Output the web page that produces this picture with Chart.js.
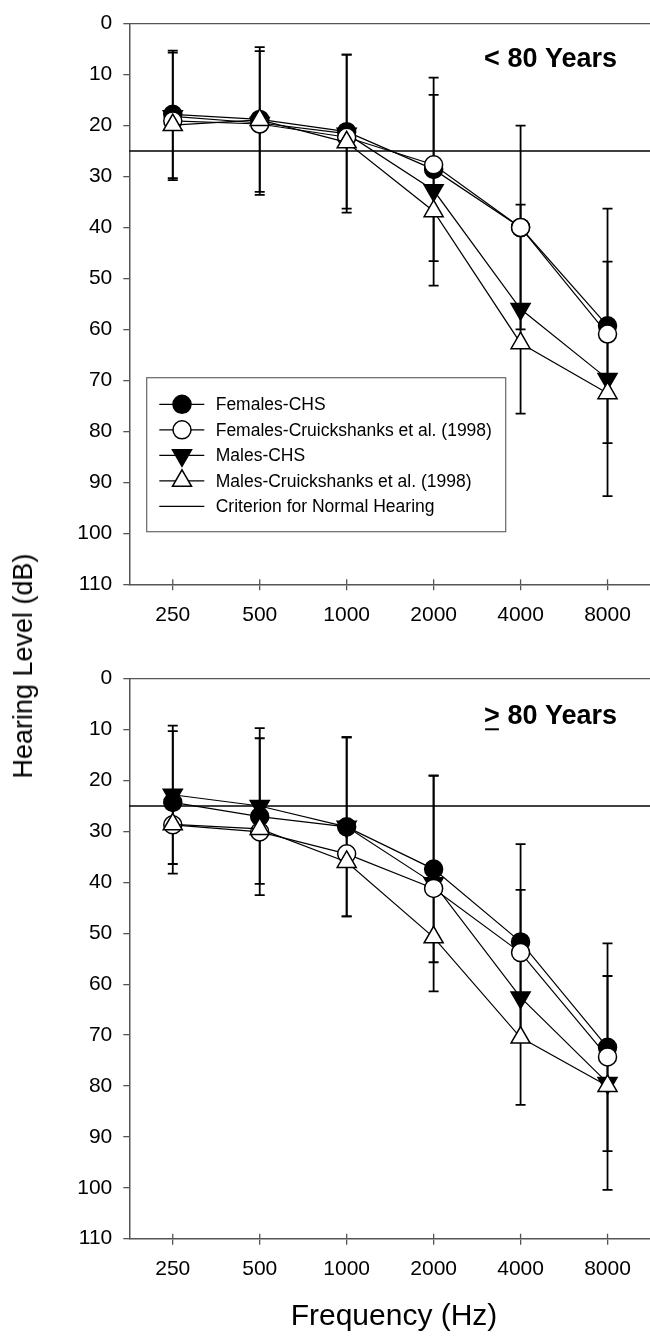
<!DOCTYPE html>
<html>
<head>
<meta charset="utf-8">
<script src="https://cdn.jsdelivr.net/npm/chart.js@4.4.1/dist/chart.umd.min.js"></script>
<style>
  html, body { margin: 0; padding: 0; background: #fff; overflow: hidden; }
  body { width: 650px; height: 1336px; position: relative; }
  #topWrap { position: absolute; left: 0; top: 0; }
  #botWrap { position: absolute; left: 0; top: 650px; }
  #ylab {
    position: absolute; left: 23px; top: 666px;
    transform: translate(-50%, -50%) rotate(-90deg);
    font: 27px "Liberation Sans", Arial, sans-serif; line-height: 30px;
    white-space: nowrap; color: #000;
  }
</style>
</head>
<body>
<div id="topWrap"><canvas id="chartTop" width="651" height="650"></canvas></div>
<div id="botWrap"><canvas id="chartBot" width="651" height="686"></canvas></div>
<div id="ylab">Hearing Level (dB)</div>
<script>
// --- DATA ---
const frequencies = ['250', '500', '1000', '2000', '4000', '8000'];
const criterion = 25;
const yMin = 0, yMax = 110, yStep = 10;

// < 80 years
const under80_femCHS   = [17.8, 18.8, 21.2, 28.6, 40.0, 59.3];
const under80_femCHSsd = [12.5, 14.2, 15.1, 18.0, 20.0, 23.0];
const under80_femCr    = [19.1, 19.7, 22.3, 27.7, 40.0, 60.9];
const under80_maleCHS   = [18.2, 19.5, 21.6, 32.7, 56.0, 69.7];
const under80_maleCHSsd = [12.5, 14.1, 15.5, 18.7, 20.5, 23.0];
const under80_maleCr    = [19.9, 18.9, 23.3, 36.8, 62.7, 72.5];

// >= 80 years
const over80_femCHS   = [24.3, 27.1, 29.1, 37.4, 51.7, 72.4];
const over80_femCHSsd = [14.0, 15.4, 17.6, 18.3, 19.2, 20.4];
const over80_femCr    = [28.7, 30.1, 34.4, 41.2, 53.8, 74.3];
const over80_maleCHS   = [22.8, 25.0, 29.1, 40.2, 62.6, 79.4];
const over80_maleCHSsd = [13.6, 15.3, 17.6, 21.2, 21.1, 21.0];
const over80_maleCr    = [28.6, 29.5, 36.0, 50.8, 70.5, 80.0];

const legendLabels = [
  'Females-CHS',
  'Females-Cruickshanks et al. (1998)',
  'Males-CHS',
  'Males-Cruickshanks et al. (1998)',
  'Criterion for Normal Hearing'
];

const FONT = '"Liberation Sans", Arial, sans-serif';

// --- STYLES ---
function makeDatasets(femCHS, femSd, femCr, maleCHS, maleSd, maleCr) {
  const base = { borderColor: '#000', borderWidth: 1.2, pointBorderColor: '#000', pointBorderWidth: 1.5, tension: 0 };
  return [
    { ...base, label: legendLabels[0], data: femCHS, sd: femSd, pointStyle: 'circle', pointRadius: 9, pointBackgroundColor: '#000', order: 2 },
    { ...base, label: legendLabels[1], data: femCr, pointStyle: 'circle', pointRadius: 9, pointBackgroundColor: '#fff', order: 1 },
    { ...base, label: legendLabels[2], data: maleCHS, sd: maleSd, pointStyle: 'triangle', pointRotation: 180, pointRadius: 11, pointBackgroundColor: '#000', order: 3 },
    { ...base, label: legendLabels[3], data: maleCr, pointStyle: 'triangle', pointRadius: 11, pointBackgroundColor: '#fff', order: 0 }
  ];
}

// --- PLUGINS ---
const frameAndErrors = {
  id: 'frameAndErrors',
  beforeDatasetsDraw(chart) {
    const { ctx, chartArea: a, scales: { x, y } } = chart;
    ctx.save();
    // criterion line
    const cy = y.getPixelForValue(criterion);
    ctx.strokeStyle = '#000'; ctx.lineWidth = 1.5;
    ctx.beginPath(); ctx.moveTo(a.left, cy); ctx.lineTo(a.right, cy); ctx.stroke();
    // top frame
    ctx.strokeStyle = '#555'; ctx.lineWidth = 1.3;
    ctx.beginPath(); ctx.moveTo(a.left, a.top); ctx.lineTo(a.right, a.top); ctx.stroke();
    // inner part of x ticks
    frequencies.forEach((f, j) => {
      const px = x.getPixelForValue(j);
      ctx.beginPath(); ctx.moveTo(px, a.bottom); ctx.lineTo(px, a.bottom - 5); ctx.stroke();
    });
    // error bars
    ctx.strokeStyle = '#000'; ctx.lineWidth = 1.8;
    chart.data.datasets.forEach(ds => {
      if (!ds.sd) return;
      ds.data.forEach((v, j) => {
        const px = x.getPixelForValue(j);
        const hi = y.getPixelForValue(v - ds.sd[j]);
        const lo = y.getPixelForValue(v + ds.sd[j]);
        ctx.beginPath();
        ctx.moveTo(px, hi); ctx.lineTo(px, lo);
        ctx.moveTo(px - 5, hi); ctx.lineTo(px + 5, hi);
        ctx.moveTo(px - 5, lo); ctx.lineTo(px + 5, lo);
        ctx.stroke();
      });
    });
    ctx.restore();
  }
};

const panelText = {
  id: 'panelText',
  afterDraw(chart, args, opts) {
    const { ctx } = chart;
    ctx.save();
    ctx.fillStyle = '#000';
    ctx.font = 'bold 27px ' + FONT;
    ctx.textAlign = 'right';
    ctx.textBaseline = 'alphabetic';
    ctx.fillText(opts.title, opts.x, opts.y);
    if (opts.underlineFirst) {
      const full = ctx.measureText(opts.title).width;
      const first = ctx.measureText(opts.title[0]).width;
      const left = opts.x - full;
      ctx.strokeStyle = '#000'; ctx.lineWidth = 2;
      ctx.beginPath(); ctx.moveTo(left + 1, opts.y + 5); ctx.lineTo(left + first - 1, opts.y + 5); ctx.stroke();
    }
    if (opts.xTitle) {
      ctx.font = '30px ' + FONT;
      ctx.textAlign = 'center';
      ctx.fillText(opts.xTitle, 394, opts.xTitleY);
    }
    ctx.restore();
  }
};

const boxLegend = {
  id: 'boxLegend',
  afterDraw(chart, args, opts) {
    if (!opts.show) return;
    const { ctx } = chart;
    const ds = chart.data.datasets;
    const bx = 146.7, by = 377.7, bw = 359, bh = 154;
    ctx.save();
    ctx.fillStyle = '#fff';
    ctx.fillRect(bx, by, bw, bh);
    ctx.strokeStyle = '#666'; ctx.lineWidth = 1.2;
    ctx.strokeRect(bx, by, bw, bh);
    ctx.font = '17.5px ' + FONT;
    ctx.textBaseline = 'middle';
    ctx.textAlign = 'left';
    legendLabels.forEach((lab, i) => {
      const ry = 404.3 + i * 25.5;
      ctx.strokeStyle = '#000'; ctx.lineWidth = 1.3;
      ctx.beginPath(); ctx.moveTo(159.3, ry); ctx.lineTo(204.3, ry); ctx.stroke();
      if (i < 4) {
        const d = ds[i];
        ctx.fillStyle = d.pointBackgroundColor;
        ctx.strokeStyle = '#000';
        ctx.lineWidth = 1.5;
        Chart.helpers.drawPoint(ctx, {
          pointStyle: d.pointStyle, radius: d.pointRadius,
          rotation: d.pointRotation || 0, borderWidth: 1.5
        }, 182, ry);
      }
      ctx.fillStyle = '#000';
      ctx.fillText(lab, 215.7, ry + 1);
    });
    ctx.restore();
  }
};

function makeChart(id, datasets, padTop, xHeight, panel, legendShow) {
  return new Chart(document.getElementById(id), {
    type: 'line',
    data: { labels: frequencies, datasets },
    plugins: [frameAndErrors, panelText, boxLegend],
    options: {
      responsive: false,
      devicePixelRatio: 1,
      animation: false,
      layout: { autoPadding: false, padding: { top: padTop, left: 0, right: 0, bottom: 0 } },
      plugins: {
        legend: { display: false },
        tooltip: { enabled: false },
        panelText: panel,
        boxLegend: { show: legendShow }
      },
      scales: {
        x: {
          type: 'category',
          offset: true,
          grid: { offset: false, drawOnChartArea: false, drawTicks: true, tickLength: 6, color: '#555', lineWidth: 1.3 },
          border: { display: true, color: '#555', width: 1.5 },
          ticks: { color: '#000', font: { family: FONT, size: 21 }, padding: 12, maxRotation: 0, autoSkip: false },
          afterFit: s => { s.height = xHeight; s.paddingLeft = 0; s.paddingRight = 0; }
        },
        y: {
          reverse: true,
          min: yMin, max: yMax,
          grid: { drawOnChartArea: false, drawTicks: true, tickLength: 6, color: '#555', lineWidth: 1.3 },
          border: { display: true, color: '#555', width: 1.5 },
          ticks: { stepSize: yStep, color: '#000', font: { family: FONT, size: 21 }, padding: 11 },
          afterFit: s => { s.width = 129.3; }
        }
      }
    }
  });
}

makeChart('chartTop',
  makeDatasets(under80_femCHS, under80_femCHSsd, under80_femCr, under80_maleCHS, under80_maleCHSsd, under80_maleCr),
  20.7, 650 - 584.3,
  { title: '< 80 Years', x: 617, y: 67.3 }, true);

makeChart('chartBot',
  makeDatasets(over80_femCHS, over80_femCHSsd, over80_femCr, over80_maleCHS, over80_maleCHSsd, over80_maleCr),
  28.7, 686 - 588.7,
  { title: '> 80 Years', x: 617, y: 74.3, underlineFirst: true, xTitle: 'Frequency (Hz)', xTitleY: 675 }, false);
</script>
</body>
</html>
